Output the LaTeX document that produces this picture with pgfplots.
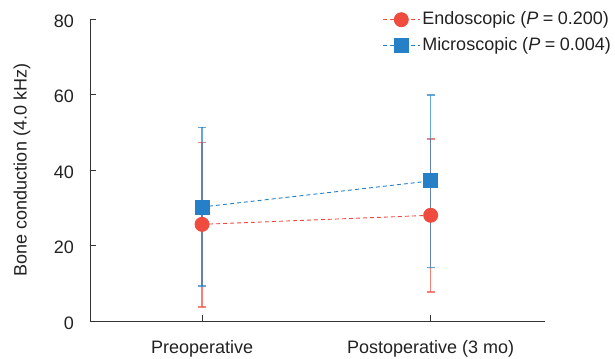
\documentclass[border=0pt]{standalone}
\usepackage{fontspec}
\setmainfont{Liberation Sans}
\usepackage{pgfplots}
\pgfplotsset{compat=1.18}
\definecolor{endo}{HTML}{EF4B3F}
\definecolor{micro}{HTML}{2680C8}
\definecolor{axgray}{HTML}{333333}
\definecolor{txt}{HTML}{222222}
\begin{document}
\fontsize{18}{21}\selectfont
\begin{tikzpicture}
\begin{axis}[
  scale only axis, width=455pt, height=302pt,
  xmin=-0.49, xmax=1.5, ymin=0, ymax=80,
  axis x line*=bottom, axis y line*=left,
  axis line style={axgray, line width=0.9pt},
  xtick={0,1}, xticklabels={Preoperative, Postoperative (3 mo)},
  ytick={0,20,...,80},
  tick align=inside, major tick length=6pt,
  tick style={axgray, line width=0.9pt},
  /pgf/number format/assume math mode=true,
  tick label style={font=\fontsize{18}{21}\selectfont, text=txt},
  xticklabel style={anchor=base, inner sep=0pt, yshift=-33pt},
  yticklabel style={anchor=east, inner sep=0pt, xshift=-16pt, yshift=-2pt},
  ylabel={Bone conduction (4.0 kHz)},
  ylabel style={at={(axis description cs:-0.1495,0.5)}, anchor=center, inner sep=0pt,
    font=\fontsize{18}{21}\selectfont, text=txt},
  legend style={at={(rel axis cs:1.1495,1.031)}, anchor=north east, draw=none, fill=none,
    font=\fontsize{18}{21}\selectfont, text=txt, row sep=6pt, inner sep=0pt,
    nodes={inner sep=2pt}},
  legend cell align=left,
  legend image code/.code={\draw[#1, mark repeat=2, mark phase=2] plot coordinates {(0pt,0pt) (18.5pt,0pt) (37pt,0pt)};},
]
\addplot[endo, line width=0.9pt, dash pattern=on 4pt off 3pt,
  mark=*, mark size=7pt, mark options={solid, fill=endo, draw=none},
  error bars/.cd, y dir=both, y explicit,
  error bar style={line width=1.3pt, solid, draw opacity=0.7},
  error mark options={rotate=90, mark size=4pt, line width=1.3pt, draw opacity=0.7}]
  coordinates {
  (0,25.6) += (0,21.7) -= (0,21.9)
  (1,28.0) += (0,20.2) -= (0,20.3)
};
\addlegendentry{Endoscopic (\textit{P}\hspace{4.5pt}=\hspace{4.5pt}0.200)}
\addplot[micro, line width=0.9pt, dash pattern=on 4pt off 3pt,
  mark=square*, mark size=7pt, mark options={solid, fill=micro, draw=none},
  error bars/.cd, y dir=both, y explicit,
  error bar style={line width=1.3pt, solid, draw opacity=0.7},
  error mark options={rotate=90, mark size=4pt, line width=1.3pt, draw opacity=0.7}]
  coordinates {
  (0,30.2) += (0,21.1) -= (0,20.9)
  (1,37.1) += (0,22.8) -= (0,22.9)
};
\addlegendentry{Microscopic (\textit{P}\hspace{4.5pt}=\hspace{4.5pt}0.004)}
\end{axis}
\pgfresetboundingbox
\path ([xshift=-90pt,yshift=-38pt]current axis.south west) rectangle ([xshift=70pt,yshift=19pt]current axis.north east);
\end{tikzpicture}
\end{document}
